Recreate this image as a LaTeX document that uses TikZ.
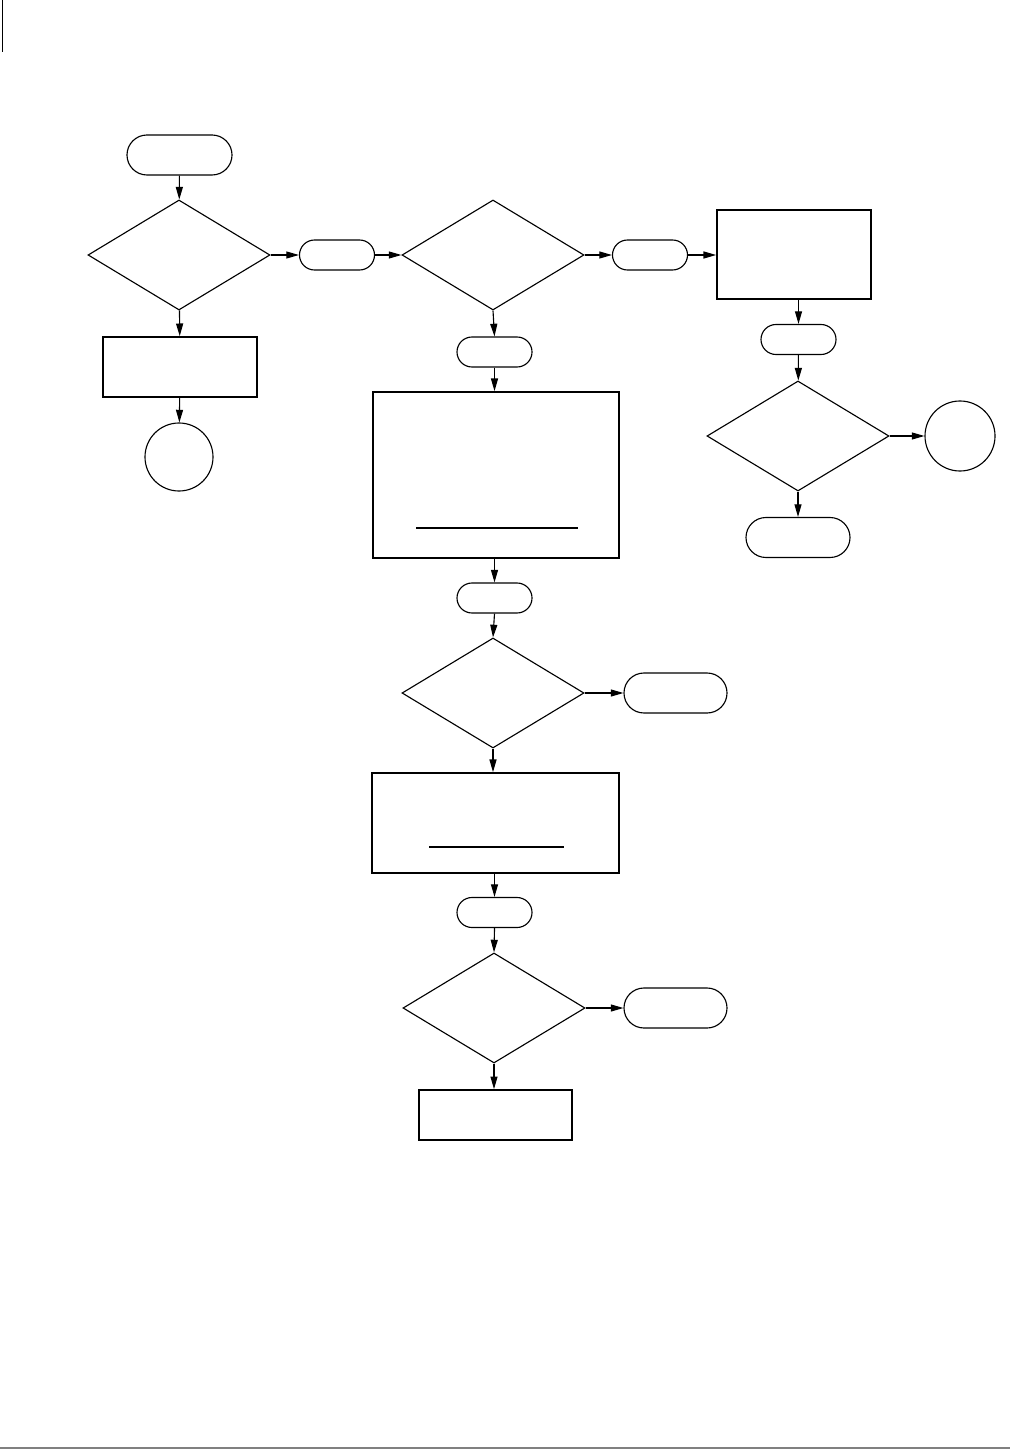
\documentclass[tikz,border=0pt]{standalone}
\usepackage{tikz}
\usetikzlibrary{arrows.meta,shapes.geometric,shapes.misc,positioning}

\tikzset{
  term/.style={draw, rounded rectangle, line width=0.8pt, minimum width=1.875cm, minimum height=0.75cm, inner sep=0pt},
  bigterm/.style={term, minimum width=2.6cm, minimum height=1cm},
  decide/.style={draw, diamond, line width=0.8pt, minimum width=4.55cm, minimum height=2.75cm, inner sep=0pt},
  block/.style={draw, rectangle, line width=1.2pt, inner sep=0pt},
  joint/.style={draw, circle, line width=0.8pt, minimum size=1.75cm, inner sep=0pt},
  flow/.style={-{Triangle[length=9pt,width=5pt]}, line width=0.8pt}
}

\begin{document}
\begin{tikzpicture}[x=0.025cm, y=-0.025cm]
        \useasboundingbox (0,0) rectangle (1010,1450);

        % Page marks
        \draw[line width=0.6pt] (2,0) -- (2,52);
        \draw[gray, line width=1.5pt] (0,1448) -- (1010,1448);

        % Left column
        \node[bigterm, minimum width=2.625cm] (start) at (179.5,155) {};
        \node[decide] (askA) at (179,255) {};
        \node[block, minimum width=3.85cm, minimum height=1.5cm] (actA) at (180,367) {};
        \node[joint, minimum size=1.7cm] (linkA) at (179,457) {};

        % Middle column
        \node[term] (yesA) at (337,255) {};
        \node[decide] (askB) at (493,255) {};
        \node[term] (noB) at (494.5,352) {};
        \node[block, minimum width=6.15cm, minimum height=4.15cm] (actB) at (496,475) {};
        \node[term] (doneB) at (494.5,598) {};
        \node[decide] (askC) at (493,693) {};
        \node[bigterm, minimum width=2.575cm] (endC) at (675.5,693) {};
        \node[block, minimum width=6.175cm, minimum height=2.5cm] (actC) at (495.5,823) {};
        \node[term] (doneC) at (494.5,912.5) {};
        \node[decide] (askD) at (494,1008) {};
        \node[bigterm, minimum width=2.575cm] (endD) at (675.5,1008) {};
        \node[block, minimum width=3.825cm, minimum height=1.25cm] (actD) at (495.5,1115) {};

        % Right column
        \node[term] (yesB) at (650,255) {};
        \node[block, minimum width=3.85cm, minimum height=2.225cm] (actE) at (794,254.5) {};
        \node[term] (doneE) at (798.5,339.5) {};
        \node[decide] (askE) at (798,436) {};
        \node[joint] (linkE) at (960,436) {};
        \node[bigterm] (endE) at (798,537.5) {};

        % Rules inside blocks
        \draw[line width=1.2pt] (416,528) -- (578,528);
        \draw[line width=1.2pt] (429,847) -- (564,847);

        % Connectors
        \draw[flow] (start) -- (askA);
        \draw[flow] (askA) -- (actA);
        \draw[flow] (actA) -- (linkA);
        \draw[flow] (askA.east) -- (yesA.west);
        \draw[flow] (yesA.east) -- (askB.west);
        \draw[flow] (askB.east) -- (yesB.west);
        \draw[flow] (yesB.east) -- (actE.west |- yesB.east);
        \draw[flow] (actE.south -| doneE.north) -- (doneE.north);
        \draw[flow] (doneE) -- (askE);
        \draw[flow] (askE.east) -- (linkE.west);
        \draw[flow] (askE) -- (endE);
        \draw[flow] (askB.south) -- (noB.north);
        \draw[flow] (noB.south) -- (actB.north -| noB.south);
        \draw[flow] (actB.south -| doneB.north) -- (doneB.north);
        \draw[flow] (doneB.south) -- (askC.north);
        \draw[flow] (askC.east) -- (endC.west);
        \draw[flow] (askC.south) -- (actC.north -| askC.south);
        \draw[flow] (actC.south -| doneC.north) -- (doneC.north);
        \draw[flow] (doneC.south) -- (askD.north);
        \draw[flow] (askD.east) -- (endD.west);
        \draw[flow] (askD.south) -- (actD.north -| askD.south);
    \end{tikzpicture}
\end{document}
